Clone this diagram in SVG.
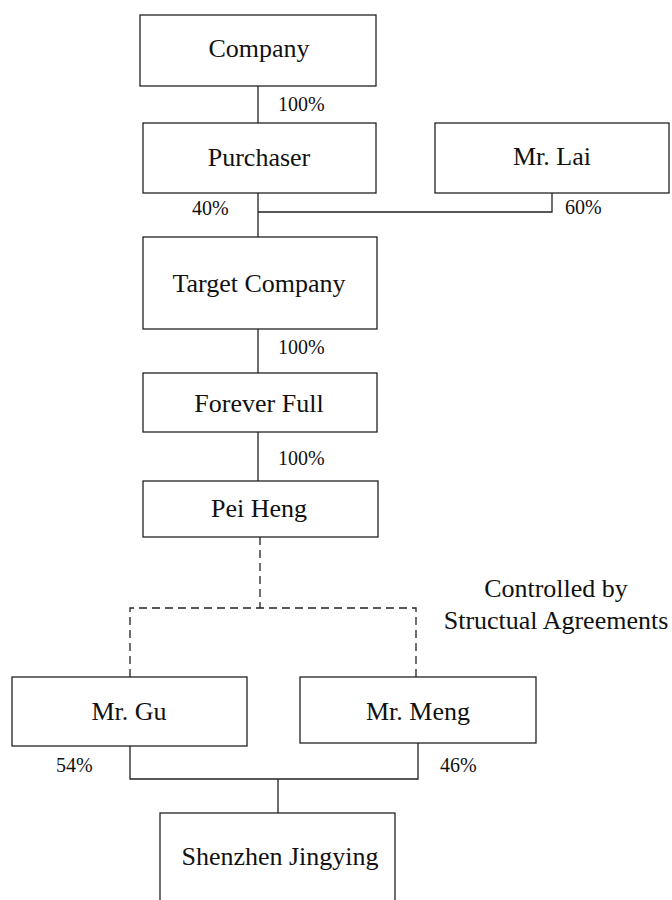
<svg xmlns="http://www.w3.org/2000/svg" width="672" height="900" viewBox="0 0 672 900">
<style>
.box{fill:#fff;stroke:#222;stroke-width:1.3}
.lbl{font-family:"Liberation Serif","Times New Roman",serif;font-size:26px;fill:#111;text-anchor:middle}
.pct{font-family:"Liberation Serif","Times New Roman",serif;font-size:20px;fill:#111}
.ln{fill:none;stroke:#222;stroke-width:1.3}
.dash{fill:none;stroke:#222;stroke-width:1.3;stroke-dasharray:8 5}
</style>
<rect width="672" height="900" fill="#fff"/>
<g id="connectors">
<path class="ln" d="M258 86V123"/>
<path class="ln" d="M258 193V237M258 212H552V193"/>
<path class="ln" d="M258 329V373"/>
<path class="ln" d="M258 432V481"/>
<path class="dash" d="M260 537V608M130 677V608H416V677"/>
<path class="ln" d="M130 746V779H418V743M278 779V813"/>
<text class="pct" x="278" y="111">100%</text>
<text class="pct" x="192" y="215">40%</text>
<text class="pct" x="565" y="214">60%</text>
<text class="pct" x="278" y="354">100%</text>
<text class="pct" x="278" y="465">100%</text>
<text class="pct" x="56" y="772">54%</text>
<text class="pct" x="440" y="772">46%</text>
<text class="lbl" x="556" y="597">Controlled by</text>
<text class="lbl" x="556" y="629">Structual Agreements</text>
</g>
<g id="company"><rect class="box" x="140" y="15" width="236" height="71"/><text class="lbl" x="259" y="57">Company</text></g>
<g id="purchaser"><rect class="box" x="143" y="123" width="233" height="70"/><text class="lbl" x="259" y="166">Purchaser</text></g>
<g id="mrlai"><rect class="box" x="435" y="123" width="234" height="70"/><text class="lbl" x="552" y="165">Mr. Lai</text></g>
<g id="target"><rect class="box" x="143" y="237" width="234" height="92"/><text class="lbl" x="259" y="292">Target Company</text></g>
<g id="forever"><rect class="box" x="143" y="373" width="234" height="59"/><text class="lbl" x="259" y="412">Forever Full</text></g>
<g id="peiheng"><rect class="box" x="143" y="481" width="235" height="56"/><text class="lbl" x="259" y="517">Pei Heng</text></g>
<g id="mrgu"><rect class="box" x="12" y="677" width="235" height="69"/><text class="lbl" x="129" y="720">Mr. Gu</text></g>
<g id="mrmeng"><rect class="box" x="300" y="677" width="236" height="66"/><text class="lbl" x="418" y="720">Mr. Meng</text></g>
<g id="shenzhen"><rect class="box" x="160" y="813" width="235" height="100"/><text class="lbl" x="280" y="865">Shenzhen Jingying</text></g>
</svg>
